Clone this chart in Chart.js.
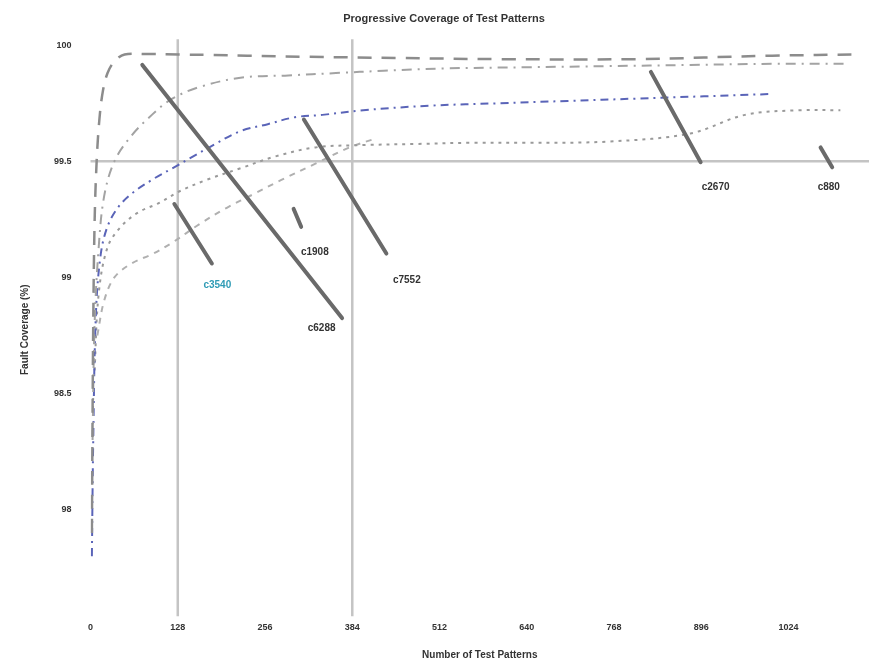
<!DOCTYPE html>
<html>
<head>
<meta charset="utf-8">
<title>Progressive Coverage of Test Patterns</title>
<script src="https://cdn.jsdelivr.net/npm/chart.js@4.4.1/dist/chart.umd.min.js"></script>
<style>
  html, body { margin: 0; padding: 0; background: #fff; }
  #wrap { width: 869px; height: 671px; }
</style>
</head>
<body>
<div id="wrap"><canvas id="c" width="869" height="671"></canvas></div>
<script>
// Axis ticks
const xTicks = [0, 128, 256, 384, 512, 640, 768, 896, 1024];
const yTicks = [98, 98.5, 99, 99.5, 100];

// Coverage curves: pattern count vs. fault coverage (%)
const curveA_x = [2, 3, 4, 6, 9, 13, 18, 25, 35, 50, 80, 130, 180, 230, 320, 450, 600, 800, 1000, 1130];
const curveA_y = [97.9, 98.4, 98.8, 99.24, 99.5, 99.68, 99.8, 99.88, 99.93, 99.96, 99.962, 99.96, 99.958, 99.955, 99.95, 99.945, 99.94, 99.94, 99.955, 99.96];

const curveB_x = [3, 6, 12, 20, 35, 60, 90, 120, 160, 220, 290, 360, 430, 520, 640, 760, 880, 1000, 1110];
const curveB_y = [98.3, 98.8, 99.13, 99.35, 99.5, 99.61, 99.7, 99.77, 99.82, 99.86, 99.87, 99.88, 99.89, 99.9, 99.905, 99.91, 99.915, 99.92, 99.92];

const curveC_x = [2, 4, 8, 15, 25, 40, 60, 90, 120, 150, 180, 220, 260, 300, 340, 400, 500, 600, 700, 800, 900, 1000];
const curveC_y = [97.8, 98.3, 98.85, 99.1, 99.22, 99.3, 99.36, 99.42, 99.47, 99.52, 99.57, 99.63, 99.66, 99.69, 99.7, 99.72, 99.74, 99.75, 99.76, 99.77, 99.78, 99.79];

const curveD_x = [6, 12, 25, 45, 70, 100, 130, 170, 220, 270, 330, 400, 480, 560, 640, 760, 880, 960, 1040, 1100];
const curveD_y = [98.6, 98.93, 99.13, 99.22, 99.28, 99.32, 99.37, 99.42, 99.47, 99.52, 99.56, 99.57, 99.575, 99.58, 99.58, 99.585, 99.62, 99.7, 99.72, 99.72];

const curveE_x = [10, 20, 35, 60, 90, 120, 160, 200, 240, 280, 330, 380, 420];
const curveE_y = [98.75, 98.9, 99.0, 99.06, 99.1, 99.15, 99.23, 99.3, 99.36, 99.42, 99.49, 99.56, 99.6];

// Reference lines
const refX = [128, 384];
const refY = [99.5];

// Circuit call-outs: label, arrow tail (x, y), arrow head (x, y), label position (x, y)
const calloutNames = ['c6288', 'c7552', 'c3540', 'c1908', 'c2670', 'c880'];
const calloutFromX = [76, 313, 123, 298, 822, 1071];
const calloutFromY = [99.915, 99.68, 99.316, 99.295, 99.885, 99.56];
const calloutToX = [369, 434, 178, 309, 895, 1088];
const calloutToY = [98.825, 99.103, 99.06, 99.218, 99.496, 99.474];
const calloutLabelX = [339, 464, 186, 329, 917, 1083];
const calloutLabelY = [98.782, 98.987, 98.966, 99.107, 99.389, 99.389];
const calloutColors = ['#333', '#333', '#2f9bb5', '#333', '#333', '#333'];

function pts(xs, ys) { return xs.map((x, i) => ({ x: x, y: ys[i] })); }

const refPlugin = {
  id: 'refLines',
  beforeDatasetsDraw(chart) {
    const { ctx, chartArea: a, scales: { x, y } } = chart;
    ctx.save();
    ctx.strokeStyle = '#c4c4c4';
    ctx.lineWidth = 2.5;
    refX.forEach(v => {
      const px = x.getPixelForValue(v);
      ctx.beginPath(); ctx.moveTo(px, a.top - 6); ctx.lineTo(px, a.bottom + 2); ctx.stroke();
    });
    refY.forEach(v => {
      const py = y.getPixelForValue(v);
      ctx.beginPath(); ctx.moveTo(a.left, py); ctx.lineTo(a.right, py); ctx.stroke();
    });
    ctx.restore();
  }
};

const calloutPlugin = {
  id: 'callouts',
  afterDatasetsDraw(chart) {
    const { ctx, scales: { x, y } } = chart;
    ctx.save();
    calloutNames.forEach((name, i) => {
      const x0 = x.getPixelForValue(calloutFromX[i]), y0 = y.getPixelForValue(calloutFromY[i]);
      const x1 = x.getPixelForValue(calloutToX[i]), y1 = y.getPixelForValue(calloutToY[i]);
      ctx.strokeStyle = '#6a6a6a';
      ctx.lineWidth = 4;
      ctx.lineCap = 'round';
      ctx.beginPath(); ctx.moveTo(x0, y0); ctx.lineTo(x1, y1); ctx.stroke();
      ctx.fillStyle = calloutColors[i];
      ctx.font = 'bold 10px "Liberation Sans", Arial, sans-serif';
      ctx.textAlign = 'center';
      ctx.textBaseline = 'middle';
      ctx.fillText(name, x.getPixelForValue(calloutLabelX[i]), y.getPixelForValue(calloutLabelY[i]));
    });
    ctx.restore();
  }
};

const mk = (label, xs, ys, color, dash, width) => ({
  label: label,
  data: pts(xs, ys),
  borderColor: color,
  backgroundColor: color,
  borderWidth: width,
  borderDash: dash,
  pointRadius: 0,
  tension: 0.35,
  fill: false
});

new Chart(document.getElementById('c'), {
  type: 'line',
  data: {
    datasets: [
      mk('A', curveA_x, curveA_y, '#8c8c8c', [14, 10], 2.5),
      mk('B', curveB_x, curveB_y, '#a3a3a3', [10, 6, 2, 6], 2),
      mk('C', curveC_x, curveC_y, '#5a64b8', [8, 5, 2, 5], 2),
      mk('D', curveD_x, curveD_y, '#9a9a9a', [3, 5], 2),
      mk('E', curveE_x, curveE_y, '#b0b0b0', [6, 6], 2)
    ]
  },
  plugins: [refPlugin, calloutPlugin],
  options: {
    responsive: false,
    animation: false,
    layout: { padding: { top: 4, right: 0, bottom: 6, left: 19 } },
    plugins: {
      legend: { display: false },
      tooltip: { enabled: false },
      title: {
        display: true,
        text: 'Progressive Coverage of Test Patterns',
        color: '#333',
        font: { family: '"Liberation Sans", Arial, sans-serif', size: 11, weight: 'bold' },
        padding: { top: 8, bottom: 20 },
        align: 'center'
      }
    },
    scales: {
      x: {
        type: 'linear',
        min: 0,
        max: 1142,
        afterBuildTicks: axis => { axis.ticks = xTicks.map(v => ({ value: v })); },
        grid: { display: false },
        border: { display: false },
        ticks: {
          color: '#333',
          font: { family: '"Liberation Sans", Arial, sans-serif', size: 9, weight: 'bold' },
          maxRotation: 0,
          padding: 0,
          callback: v => String(v)
        },
        title: {
          display: true,
          text: 'Number of Test Patterns',
          color: '#333',
          font: { family: '"Liberation Sans", Arial, sans-serif', size: 10, weight: 'bold' },
          padding: { top: 16 }
        }
      },
      y: {
        type: 'linear',
        min: 97.55,
        max: 100,
        afterBuildTicks: axis => { axis.ticks = yTicks.map(v => ({ value: v })); },
        grid: { display: false },
        border: { display: false },
        ticks: {
          color: '#333',
          font: { family: '"Liberation Sans", Arial, sans-serif', size: 9, weight: 'bold' },
          padding: 11,
          callback: v => String(v)
        },
        title: {
          display: true,
          text: 'Fault Coverage (%)',
          color: '#333',
          font: { family: '"Liberation Sans", Arial, sans-serif', size: 10, weight: 'bold' },
          padding: { top: 0, bottom: 12 }
        }
      }
    }
  }
});
</script>
</body>
</html>
